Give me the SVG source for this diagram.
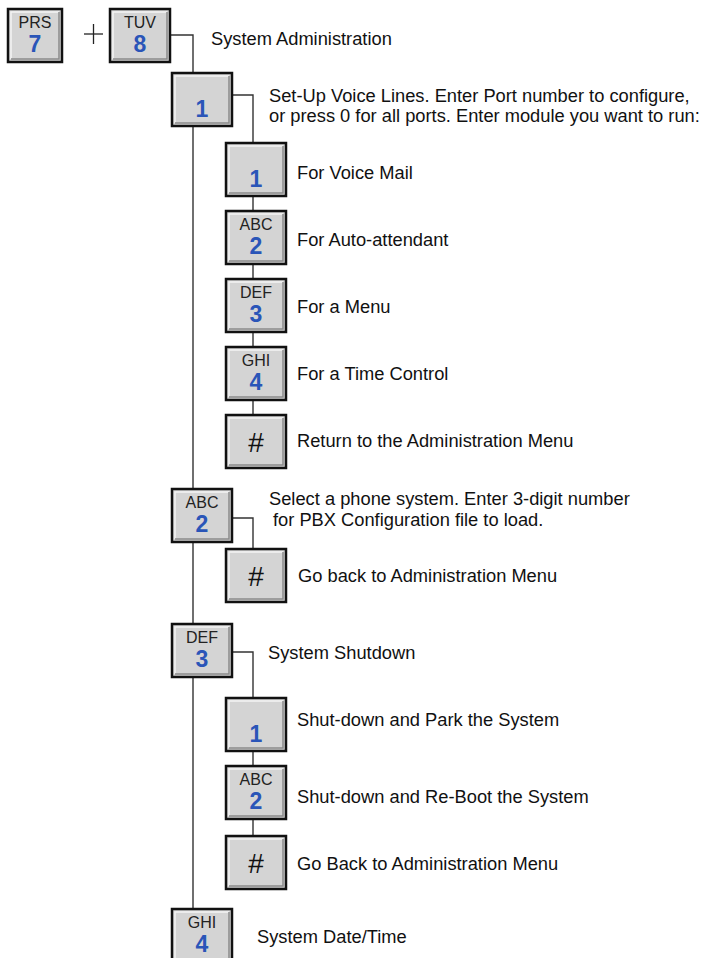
<svg xmlns="http://www.w3.org/2000/svg" width="707" height="958" viewBox="0 0 707 958">
<style>
  .bg { fill: #ffffff; }
  .btn { fill: #d4d4d4; stroke: #111111; stroke-width: 2.5; }
  .hl { fill: none; stroke: #f4f4f4; stroke-width: 1.5; }
  .sh { fill: none; stroke: #8a8a8a; stroke-width: 1.5; }
  .let { font-family: "Liberation Sans", Arial, sans-serif; font-size: 16px; fill: #222222; text-anchor: middle; }
  .dig { font-family: "Liberation Sans", Arial, sans-serif; font-size: 23px; font-weight: bold; fill: #2a55b8; text-anchor: middle; }
  .hash { font-family: "Liberation Sans", Arial, sans-serif; font-size: 28px; fill: #111111; text-anchor: middle; }
  .lbl { font-family: "Liberation Sans", Arial, sans-serif; font-size: 18.3px; fill: #111111; }
  .wire { fill: none; stroke: #333333; stroke-width: 1.4; }
</style>
<defs>
  <g id="key">
    <rect class="btn" x="0" y="0" width="60" height="53"/>
    <polyline class="hl" points="3,50 3,3 57,3"/>
    <polyline class="sh" points="3,50 57,50 57,3"/>
  </g>
  <g id="keyS">
    <rect class="btn" x="0" y="0" width="54" height="53"/>
    <polyline class="hl" points="3,50 3,3 51,3"/>
    <polyline class="sh" points="3,50 51,50 51,3"/>
  </g>
</defs>
<rect class="bg" x="0" y="0" width="707" height="958"/>

<g id="connectors">
  <polyline class="wire" points="170,35 193,35 193,909"/>
  <polyline class="wire" points="232,95 253,95 253,415"/>
  <polyline class="wire" points="232,518 253,518 253,549"/>
  <polyline class="wire" points="232,652 253,652 253,836"/>
</g>

<g id="key-prs7">
  <use href="#keyS" x="8" y="9"/>
  <text class="let" x="35" y="28">PRS</text>
  <text class="dig" x="35" y="52">7</text>
</g>
<g id="plus">
  <line x1="84" y1="34" x2="103" y2="34" stroke="#222" stroke-width="1.3"/>
  <line x1="93.5" y1="24" x2="93.5" y2="44" stroke="#222" stroke-width="1.3"/>
</g>
<g id="key-tuv8">
  <use href="#key" x="110" y="9"/>
  <text class="let" x="140" y="28">TUV</text>
  <text class="dig" x="140" y="52">8</text>
</g>
<text class="lbl" x="211" y="45">System Administration</text>

<g id="key-1">
  <use href="#key" x="172" y="73"/>
  <text class="dig" x="202" y="117">1</text>
</g>
<text class="lbl" x="269" y="102">Set-Up Voice Lines. Enter Port number to configure,</text>
<text class="lbl" x="269" y="122">or press 0 for all ports. Enter module you want to run:</text>

<g id="key-1-1">
  <use href="#key" x="226" y="143"/>
  <text class="dig" x="256" y="187">1</text>
</g>
<text class="lbl" x="297" y="179">For Voice Mail</text>

<g id="key-1-2">
  <use href="#key" x="226" y="211"/>
  <text class="let" x="256" y="230">ABC</text>
  <text class="dig" x="256" y="254">2</text>
</g>
<text class="lbl" x="297" y="246">For Auto-attendant</text>

<g id="key-1-3">
  <use href="#key" x="226" y="279"/>
  <text class="let" x="256" y="298">DEF</text>
  <text class="dig" x="256" y="322">3</text>
</g>
<text class="lbl" x="297" y="313">For a Menu</text>

<g id="key-1-4">
  <use href="#key" x="226" y="347"/>
  <text class="let" x="256" y="366">GHI</text>
  <text class="dig" x="256" y="390">4</text>
</g>
<text class="lbl" x="297" y="380">For a Time Control</text>

<g id="key-1-hash">
  <use href="#key" x="226" y="415"/>
  <text class="hash" x="256" y="452">#</text>
</g>
<text class="lbl" x="297" y="447">Return to the Administration Menu</text>

<g id="key-2">
  <use href="#key" x="172" y="489"/>
  <text class="let" x="202" y="508">ABC</text>
  <text class="dig" x="202" y="532">2</text>
</g>
<text class="lbl" x="269" y="505">Select a phone system. Enter 3-digit number</text>
<text class="lbl" x="273" y="526">for PBX Configuration file to load.</text>

<g id="key-2-hash">
  <use href="#key" x="226" y="549"/>
  <text class="hash" x="256" y="586">#</text>
</g>
<text class="lbl" x="298" y="582">Go back to Administration Menu</text>

<g id="key-3">
  <use href="#key" x="172" y="624"/>
  <text class="let" x="202" y="643">DEF</text>
  <text class="dig" x="202" y="667">3</text>
</g>
<text class="lbl" x="268" y="659">System Shutdown</text>

<g id="key-3-1">
  <use href="#key" x="226" y="698"/>
  <text class="dig" x="256" y="742">1</text>
</g>
<text class="lbl" x="297" y="726">Shut-down and Park the System</text>

<g id="key-3-2">
  <use href="#key" x="226" y="766"/>
  <text class="let" x="256" y="785">ABC</text>
  <text class="dig" x="256" y="809">2</text>
</g>
<text class="lbl" x="297" y="803">Shut-down and Re-Boot the System</text>

<g id="key-3-hash">
  <use href="#key" x="226" y="836"/>
  <text class="hash" x="256" y="873">#</text>
</g>
<text class="lbl" x="297" y="870">Go Back to Administration Menu</text>

<g id="key-4">
  <use href="#key" x="172" y="909"/>
  <text class="let" x="202" y="928">GHI</text>
  <text class="dig" x="202" y="952">4</text>
</g>
<text class="lbl" x="257" y="943">System Date/Time</text>
</svg>
